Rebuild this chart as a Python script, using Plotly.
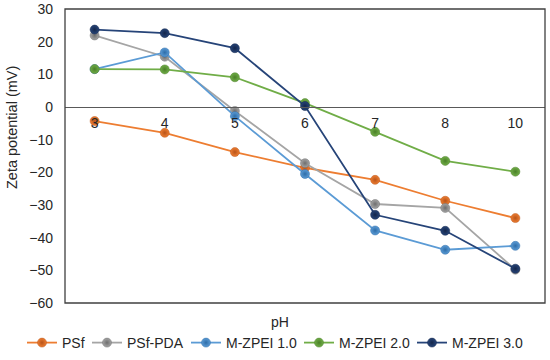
import plotly.graph_objects as go

ph_labels = ["3", "4", "5", "6", "7", "8", "10"]
psf = [-4.3, -7.9, -13.8, -18.6, -22.3, -28.7, -34.0]
psf_pda = [21.9, 15.4, -1.2, -17.2, -29.7, -30.9, -49.8]
mzpei_1 = [11.6, 16.7, -2.8, -20.5, -37.8, -43.7, -42.5]
mzpei_2 = [11.6, 11.5, 9.1, 1.2, -7.6, -16.5, -19.8]
mzpei_3 = [23.7, 22.6, 18.0, 0.3, -33.0, -37.9, -49.5]

series = [
    ("PSf", psf, "#ED7D31", "#B8541A"),
    ("PSf-PDA", psf_pda, "#A5A5A5", "#6E6E6E"),
    ("M-ZPEI 1.0", mzpei_1, "#5B9BD5", "#2E6DA8"),
    ("M-ZPEI 2.0", mzpei_2, "#70AD47", "#4A7F28"),
    ("M-ZPEI 3.0", mzpei_3, "#264478", "#14264A"),
]
# legend line start x positions in pixels (layout only)
legend_px = [36, 101, 200, 313, 426]

L, R, T, B = 65, 5, 9, 57
W, H = 550, 360
pw, ph = W - L - R, H - T - B

font_fam = "Arial, Liberation Sans, sans-serif"
txt = "#262626"

fig = go.Figure()
legend_layouts = {}
for i, (name, vals, col, dark) in enumerate(series):
    lname = "legend" if i == 0 else f"legend{i+1}"
    fig.add_trace(go.Scatter(
        x=ph_labels, y=vals, name=name, mode="lines+markers",
        line=dict(color=col, width=1.8),
        marker=dict(size=9, color=col, line=dict(width=0.5, color=dark),
                    gradient=dict(type="radial", color=dark)),
        legend=lname,
    ))
    legend_layouts[lname] = dict(
        orientation="h", x=(legend_px[i] - 14 - L) / pw, xanchor="left",
        y=(T + ph - 343) / ph, yanchor="middle", bgcolor="rgba(0,0,0,0)",
        font=dict(size=14, color=txt, family=font_fam), itemwidth=30,
    )

fig.update_layout(
    width=W, height=H,
    margin=dict(l=L, r=R, t=T, b=B, autoexpand=False),
    paper_bgcolor="white", plot_bgcolor="white",
    font=dict(family=font_fam, size=14, color=txt),
    showlegend=True,
    xaxis=dict(type="category", anchor="free", position=60/90,
               showline=True, linecolor="#595959", linewidth=1.3,
               showgrid=False, zeroline=False, ticks="", ticklabelstandoff=3,
               tickfont=dict(size=14, color=txt)),
    yaxis=dict(range=[-60, 30], dtick=10, showgrid=False, zeroline=False,
               showline=False, ticks="", ticklabelstandoff=11,
               tickfont=dict(size=14, color=txt)),
    shapes=[dict(type="rect", xref="paper", yref="paper", x0=0, x1=1, y0=0, y1=1,
                 line=dict(color="#404040", width=1.3), layer="above")],
    annotations=[
        dict(text="pH", xref="paper", yref="paper", x=(280 - L) / pw, y=(T + ph - 322) / ph,
             showarrow=False, font=dict(size=14, color=txt),
             xanchor="center", yanchor="middle"),
        dict(text="Zeta potential (mV)", xref="paper", yref="paper",
             x=(12 - L) / pw, y=(T + ph - 128) / ph, textangle=-90,
             showarrow=False, font=dict(size=14.5, color=txt),
             xanchor="center", yanchor="middle"),
    ],
    **legend_layouts,
)

fig.write_html("out.html", config={"displayModeBar": False},
               post_script="document.body.style.margin='0px';")
